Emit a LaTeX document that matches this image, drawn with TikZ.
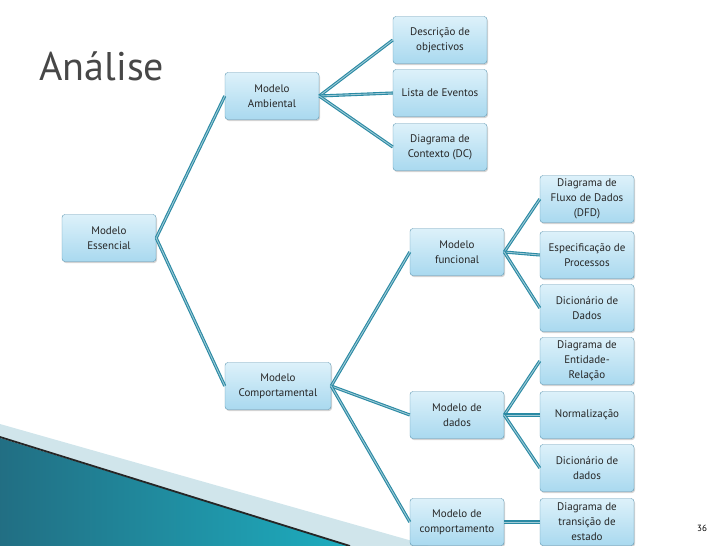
\documentclass[tikz,border=0pt]{standalone}
\usepackage{fontspec}
\setmainfont{PT Sans}
\usetikzlibrary{shadows}
\definecolor{teal1}{HTML}{2A8AA4}
\definecolor{bx}{HTML}{A9D9EF}
\definecolor{bxtop}{HTML}{DDF1FA}
\definecolor{bxline}{HTML}{5E97B2}
\tikzset{
 bbox/.style={draw=bxline,rounded corners=3pt,top color=bxtop,bottom color=bx,
   minimum width=94pt,minimum height=47pt,align=center,font=\fontsize{11}{15}\selectfont,
   text=black!85,drop shadow={shadow xshift=1pt,shadow yshift=-1.5pt,opacity=0.35},inner sep=1pt},
 link/.style={draw=teal1,double=teal1!45!white,double distance=0.9pt,line width=1.1pt}
}
\begin{document}
\begin{tikzpicture}[x=1pt,y=-1pt]
\useasboundingbox (0,0) rectangle (728,546);
% decoration
\fill[teal1!22] (0,424) -- (430,546) -- (0,546) -- cycle;
\shade[left color=teal1!80!black,right color=teal1!70!cyan] (0,438) -- (350,546) -- (0,546) -- cycle;
\draw[black!85,line width=1.8pt] (0,437) -- (350,546);
\node[font=\fontsize{40}{42}\selectfont,text=black!72,anchor=west] (title) at (36,66) {Análise};
\node[font=\fontsize{9}{10}\selectfont] (pg) at (702,528) {36};
% nodes
\node[bbox] (es) at (109,238) {Modelo\\Essencial};
\node[bbox] (am) at (272,96) {Modelo\\Ambiental};
\node[bbox] (de) at (440,40) {Descrição de\\objectivos};
\node[bbox] (li) at (440,93) {Lista de Eventos};
\node[bbox] (dc) at (440,147) {Diagrama de\\Contexto (DC)};
\node[bbox,minimum width=106pt] (co) at (278,386) {Modelo\\Comportamental};
\node[bbox] (fu) at (457,252) {Modelo\\funcional};
\node[bbox] (da) at (457,415) {Modelo de\\dados};
\node[bbox] (cp) at (457,522) {Modelo de\\comportamento};
\node[bbox] (dfd) at (587,199) {Diagrama de\\Fluxo de Dados\\(DFD)};
\node[bbox] (ep) at (587,255) {Especificação de\\Processos};
\node[bbox] (dd1) at (587,308) {Dicionário de\\Dados};
\node[bbox] (der) at (587,361) {Diagrama de\\Entidade-\\Relação};
\node[bbox] (no) at (587,415) {Normalização};
\node[bbox] (dd2) at (587,468) {Dicionário de\\dados};
\node[bbox] (tr) at (587,522) {Diagrama de\\transição de\\estado};
% links
\foreach \a/\b in {es/am,es/co,am/de,am/li,am/dc,co/fu,co/da,co/cp,fu/dfd,fu/ep,fu/dd1,da/der,da/no,da/dd2,cp/tr}
  \draw[link] (\a.east) -- (\b.west);
\end{tikzpicture}
\end{document}
